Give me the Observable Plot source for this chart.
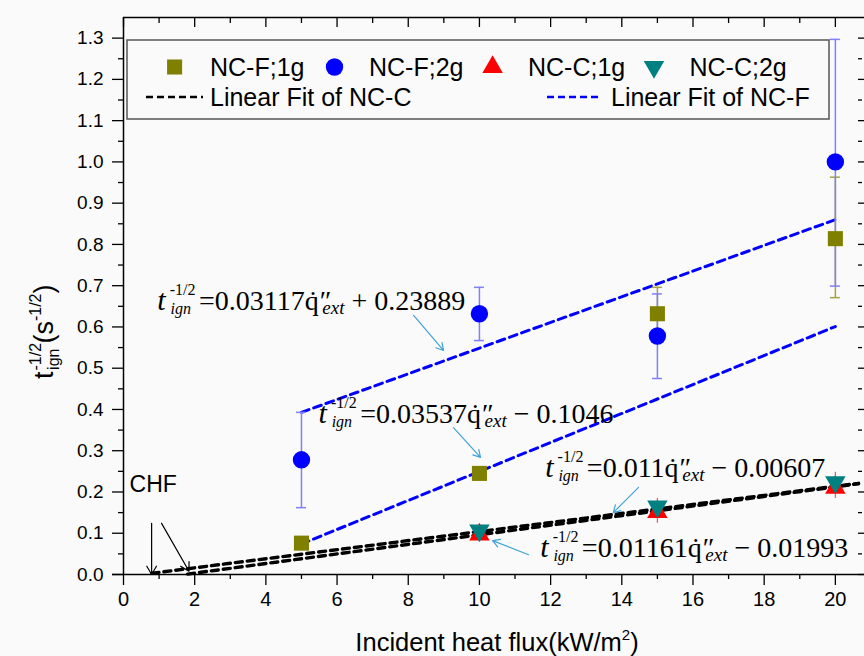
<!DOCTYPE html>
<html><head><meta charset="utf-8">
<script src="https://cdn.jsdelivr.net/npm/d3@7"></script>
<script src="https://cdn.jsdelivr.net/npm/@observablehq/plot@0.6"></script>
<style>
body{margin:0;background:#fafafa;}
#chart{width:864px;height:656px;}
</style></head><body><div id="chart"></div>
<script>
// ---------- data ----------
const heatFluxF = [5, 10, 15, 20];
const ncF1g   = [0.076, 0.245, 0.632, 0.814];
const ncF1gLo = [null, null, 0.570, 0.671];
const ncF1gHi = [null, null, 0.696, 0.963];
const ncF2g   = [0.278, 0.632, 0.578, 1.000];
const ncF2gLo = [0.162, 0.567, 0.475, 0.699];
const ncF2gHi = [0.393, 0.696, 0.680, 1.297];

const heatFluxC = [10, 15, 20];
const ncC1g   = [0.097, 0.151, 0.210];
const ncC1gLo = [0.080, 0.124, 0.184];
const ncC1gHi = [0.114, 0.184, 0.248];
const ncC2g   = [0.107, 0.165, 0.224];
const ncC2gLo = [0.098, 0.150, 0.210];
const ncC2gHi = [0.118, 0.180, 0.240];

// fitted lines (end points)
const fitF2gX = [5, 20],      fitF2gY = [0.393, 0.860];
const fitF1gX = [5, 20],      fitF1gY = [0.074, 0.601];
const fitCaX  = [0.8, 20.65], fitCaY  = [0.003, 0.221];
const fitCbX  = [1.8, 20.65], fitCbY  = [0.001, 0.220];

// equation annotations
const eqX     = [0.95, 5.48, 11.85, 11.71];
const eqY     = [0.640, 0.366, 0.236, 0.042];
const eqCoef  = ["0.03117", "0.03537", "0.011", "0.01161"];
const eqConst = ["+\u00a00.23889", "\u2212\u00a00.1046", "\u2212\u00a00.00607", "\u2212\u00a00.01993"];
const eqArrowX1 = [8.15, 9.27, 14.47, 11.38];
const eqArrowY1 = [0.628, 0.356, 0.211, 0.048];
const eqArrowX2 = [8.99, 10.03, 13.76, 10.37];
const eqArrowY2 = [0.543, 0.284, 0.150, 0.082];

// CHF annotation
const chfLabel = "CHF";
const chfX = 0.17, chfY = 0.218;
const chfArrowX1 = [0.79, 1.07], chfArrowY1 = [0.124, 0.124];
const chfArrowX2 = [0.79, 1.84], chfArrowY2 = [0.0, 0.008];

// axes
const xMajor = [0, 2, 4, 6, 8, 10, 12, 14, 16, 18, 20];
const xMinor = [1, 3, 5, 7, 9, 11, 13, 15, 17, 19];
const yMajor = [0.0, 0.1, 0.2, 0.3, 0.4, 0.5, 0.6, 0.7, 0.8, 0.9, 1.0, 1.1, 1.2, 1.3];
const yMinor = [0.05, 0.15, 0.25, 0.35, 0.45, 0.55, 0.65, 0.75, 0.85, 0.95, 1.05, 1.15, 1.25];
const xMax = 20.65, yMax = 1.35;

const seriesNames = ["NC-F;1g", "NC-F;2g", "NC-C;1g", "NC-C;2g"];
const fitNames = ["Linear Fit of NC-C", "Linear Fit of NC-F"];
const xTitle = "Incident heat flux(kW/m";

// ---------- build tables ----------
const zipRows = (xs, ys, lo, hi) => xs.map((x, i) => ({x, y: ys[i], lo: lo[i], hi: hi[i]}));
const rowsF1 = zipRows(heatFluxF, ncF1g, ncF1gLo, ncF1gHi);
const rowsF2 = zipRows(heatFluxF, ncF2g, ncF2gLo, ncF2gHi);
const rowsC1 = zipRows(heatFluxC, ncC1g, ncC1gLo, ncC1gHi);
const rowsC2 = zipRows(heatFluxC, ncC2g, ncC2gLo, ncC2gHi);
const line = (xs, ys) => xs.map((x, i) => ({x, y: ys[i]}));
const EQ_TAG = "eq#";
const eqRows = eqX.map((x, i) => ({x, y: eqY[i], label: EQ_TAG + i}));
const eqArrows = eqArrowX1.map((x, i) => ({x1: x, y1: eqArrowY1[i], x2: eqArrowX2[i], y2: eqArrowY2[i]}));
const chfArrows = chfArrowX1.map((x, i) => ({x1: x, y1: chfArrowY1[i], x2: chfArrowX2[i], y2: chfArrowY2[i]}));

const triDown = {
  draw(ctx, size) {
    const y = -Math.sqrt(size / (Math.sqrt(3) * 3));
    ctx.moveTo(0, -y * 2);
    ctx.lineTo(-Math.sqrt(3) * y, y);
    ctx.lineTo(Math.sqrt(3) * y, y);
    ctx.closePath();
  }
};

const C = {olive: "#808000", blue: "#0000ff", red: "#ff0000", teal: "#008080"};
const serif = "'Liberation Serif', 'Times New Roman', serif";
const sans = "'Liberation Sans', Arial, sans-serif";

const errBars = (rows, color, w) => {
  const r = rows.filter(d => d.lo != null);
  return [
    Plot.ruleX(r, {x: "x", y1: "lo", y2: "hi", stroke: color, strokeWidth: w}),
    Plot.ruleY(r, {y: "hi", x1: "x", x2: "x", insetLeft: -5, insetRight: -5, stroke: color, strokeWidth: 1.5}),
    Plot.ruleY(r, {y: "lo", x1: "x", x2: "x", insetLeft: -5, insetRight: -5, stroke: color, strokeWidth: 1.5})
  ];
};
// short tick marks (no labels) built from rules anchored on the axis values
const tickDown  = (vals, len) => Plot.ruleX(vals, {x: d => d, y1: () => 0, y2: () => 0, insetTop: len, insetBottom: 0, stroke: "#000", strokeWidth: 1.3});
const tickTopIn = (vals, len) => Plot.ruleX(vals, {x: d => d, y1: () => yMax, y2: () => yMax, insetTop: len, insetBottom: 0, stroke: "#000", strokeWidth: 1.3});
const tickLeft  = (vals, len) => Plot.ruleY(vals, {y: d => d, x1: () => 0, x2: () => 0, insetLeft: 0, insetRight: len, stroke: "#000", strokeWidth: 1.3});
const tickRight = (vals, len) => Plot.ruleY(vals, {y: d => d, x1: () => xMax, x2: () => xMax, insetLeft: 0, insetRight: -len, stroke: "#000", strokeWidth: 1.3});

const plot = Plot.plot({
  width: 864, height: 656,
  marginLeft: 123, marginRight: 6, marginTop: 17, marginBottom: 82,
  style: {background: "#fafafa", fontFamily: sans, color: "#000"},
  x: {domain: [0, xMax], axis: null},
  y: {domain: [0, yMax], axis: null},
  marks: [
    // axes
    Plot.axisX({ticks: xMajor, tickSize: 11, tickPadding: 6, fontSize: 20, label: null, tickFormat: d => String(d), strokeWidth: 1.3}),
    tickDown(xMinor, 5),
    tickTopIn(xMajor, 10),
    tickTopIn(xMinor, 6),
    Plot.axisY({ticks: yMajor, tickSize: 11, tickPadding: 9, fontSize: 19, label: null, tickFormat: d3.format(".1f"), strokeWidth: 1.3}),
    tickLeft(yMinor, 5),
    tickRight(yMajor, 8),
    tickRight(yMinor, 4),
    Plot.ruleY([0], {stroke: "#000", strokeWidth: 1.5, insetRight: -6, insetLeft: -11}),
    Plot.ruleY([yMax], {stroke: "#000", strokeWidth: 1.5, insetRight: -6}),
    Plot.ruleX([0], {stroke: "#000", strokeWidth: 1.5}),
    // fit lines
    Plot.line(line(fitCaX, fitCaY), {x: "x", y: "y", stroke: "#000", strokeWidth: 3.4, strokeDasharray: "7,5"}),
    Plot.line(line(fitCbX, fitCbY), {x: "x", y: "y", stroke: "#000", strokeWidth: 3.4, strokeDasharray: "7,5"}),
    Plot.line(line(fitF2gX, fitF2gY), {x: "x", y: "y", stroke: C.blue, strokeWidth: 3, strokeDasharray: "8,5"}),
    Plot.line(line(fitF1gX, fitF1gY), {x: "x", y: "y", stroke: C.blue, strokeWidth: 3, strokeDasharray: "8,5"}),
    // error bars
    ...errBars(rowsF1, "#a3a345", 1.5),
    ...errBars(rowsF2, "#7f7fff", 1.5),
    Plot.ruleX(rowsC1, {x: "x", y1: "lo", y2: "hi", stroke: "#ff5050", strokeWidth: 1.2}),
    Plot.ruleX(rowsC2, {x: "x", y1: "lo", y2: "hi", stroke: "#40a0a0", strokeWidth: 1.2}),
    // points
    Plot.dot(rowsF1, {x: "x", y: "y", symbol: "square", r: 8.5, fill: C.olive}),
    Plot.dot(rowsF2, {x: "x", y: "y", symbol: "circle", r: 8.7, fill: C.blue}),
    Plot.dot(rowsC1, {x: "x", y: "y", symbol: "triangle", r: 7.6, fill: C.red}),
    Plot.dot(rowsC2, {x: "x", y: "y", symbol: triDown, r: 7.6, fill: C.teal}),
    // annotations
    Plot.arrow(eqArrows, {x1: "x1", y1: "y1", x2: "x2", y2: "y2", stroke: "#3fa3d6", strokeWidth: 1.2, headLength: 10}),
    Plot.arrow(chfArrows, {x1: "x1", y1: "y1", x2: "x2", y2: "y2", stroke: "#000", strokeWidth: 1.2, headLength: 12}),
    Plot.text(eqRows, {x: "x", y: "y", text: "label", textAnchor: "start", lineAnchor: "bottom", fontSize: 28, fontFamily: serif, fill: "#000"}),
    Plot.text([chfLabel], {x: () => chfX, y: () => chfY, text: d => d, textAnchor: "start", fontSize: 23, fill: "#000"})
  ]
});
document.getElementById("chart").appendChild(plot);

const svg = d3.select(plot);

// rich-text equations (sub/superscripts as tspans)
svg.selectAll("text").each(function() {
  const s = this.textContent;
  if (!s.startsWith(EQ_TAG)) return;
  const i = +s.slice(EQ_TAG.length);
  const t = d3.select(this);
  t.text(null);
  t.append("tspan").attr("font-style", "italic").attr("font-size", 30).text("t");
  t.append("tspan").attr("font-size", 16).attr("dx", 4).attr("dy", -15).text("-1/2");
  t.append("tspan").attr("font-size", 16).attr("font-style", "italic").attr("dx", -25).attr("dy", 19).text("ign");
  t.append("tspan").attr("dx", 8).attr("dy", -4).text("=" + eqCoef[i]);
  t.append("tspan").text("q\u0307");
  t.append("tspan").attr("dx", 1).text("\u2033");
  t.append("tspan").attr("font-size", 19).attr("font-style", "italic").attr("dx", -9).attr("dy", 4).text("ext");
  t.append("tspan").attr("dy", -4).text("\u00a0" + eqConst[i]);
});

// y-axis title
const yt = svg.append("text").attr("transform", "translate(53,379) rotate(-90)").attr("text-anchor", "start")
  .attr("font-family", sans).attr("font-size", 27).attr("fill", "#000");
yt.append("tspan").text("t");
yt.append("tspan").attr("font-size", 16).attr("dx", 1).attr("dy", -12).text("-1/2");
yt.append("tspan").attr("font-size", 16).attr("dx", -27).attr("dy", 18).text("ign");
yt.append("tspan").attr("dx", 5).attr("dy", -6).text("(s");
yt.append("tspan").attr("font-size", 16).attr("dy", -12).text("-1/2");
yt.append("tspan").attr("dy", 12).text(")");

// x-axis title
const xt = svg.append("text").attr("x", 497).attr("y", 651).attr("text-anchor", "middle")
  .attr("font-family", sans).attr("font-size", 25.5).attr("fill", "#000");
xt.append("tspan").text(xTitle);
xt.append("tspan").attr("font-size", 15).attr("dy", -11).text("2");
xt.append("tspan").attr("dy", 11).text(")");

// legend
const lg = svg.append("g").attr("font-family", sans).attr("font-size", 25).attr("text-anchor", "start");
lg.append("rect").attr("x", 127).attr("y", 40).attr("width", 702).attr("height", 79)
  .attr("fill", "#fafafa").attr("stroke", "#555").attr("stroke-width", 1.5);
const symX = [174.6, 334.5, 492.6, 654], txtX = [210, 369, 528, 689.5];
const symTypes = [d3.symbolSquare, d3.symbolCircle, d3.symbolTriangle, triDown];
const symSizes = [8.5, 8.7, 7.6, 7.6].map(r => r * r * Math.PI);
const symColors = [C.olive, C.blue, C.red, C.teal];
seriesNames.forEach((name, i) => {
  lg.append("path").attr("transform", `translate(${symX[i]},67)`)
    .attr("d", d3.symbol(symTypes[i], symSizes[i])()).attr("fill", symColors[i]);
  lg.append("text").attr("x", txtX[i]).attr("y", 76).text(name);
});
const fitLine0 = [146, 547], fitLine1 = [203, 602], fitTxt = [210, 611], fitCol = ["#000", C.blue];
fitNames.forEach((name, i) => {
  lg.append("line").attr("x1", fitLine0[i]).attr("x2", fitLine1[i]).attr("y1", 97).attr("y2", 97)
    .attr("stroke", fitCol[i]).attr("stroke-width", 2.5).attr("stroke-dasharray", "7,4");
  lg.append("text").attr("x", fitTxt[i]).attr("y", 106).text(name);
});
</script></body></html>
